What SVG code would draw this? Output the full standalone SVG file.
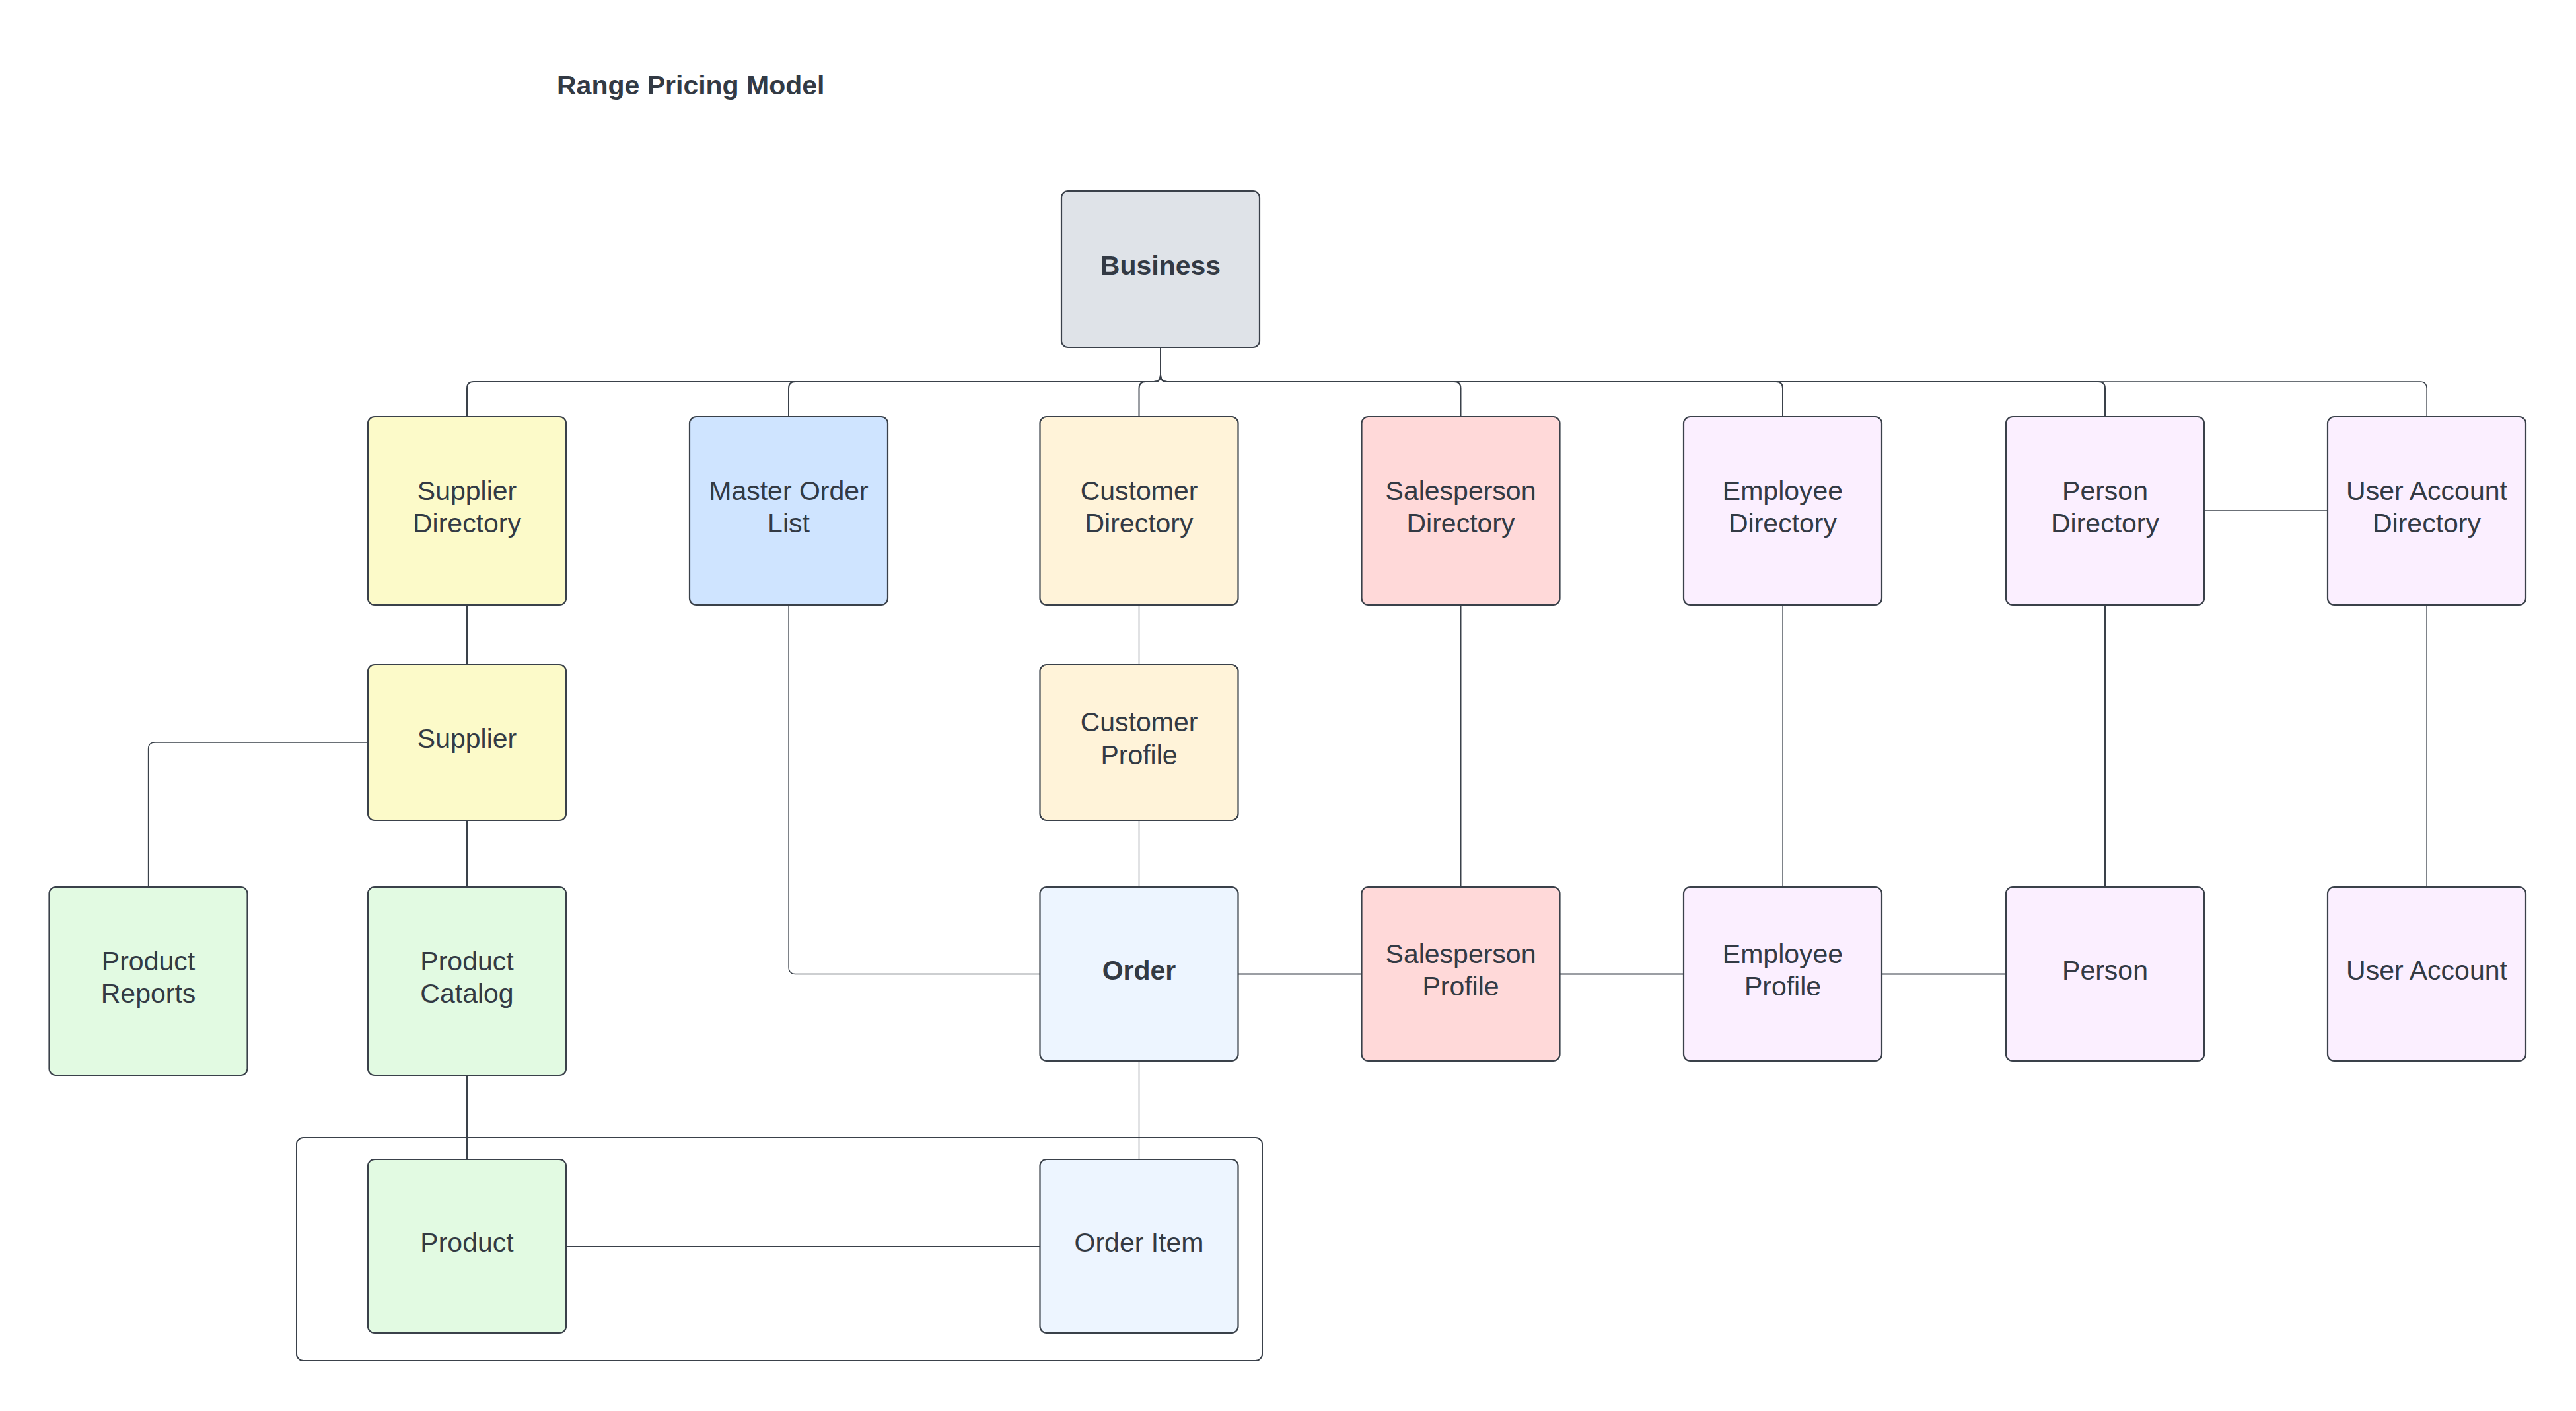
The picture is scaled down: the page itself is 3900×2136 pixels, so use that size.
<svg xmlns="http://www.w3.org/2000/svg" width="3900" height="2136" viewBox="0 0 3900 2136">
  <style>
    .box { stroke: #3a414a; stroke-width: 2.2; }
    .lbl { font-family: "Liberation Sans", Arial, sans-serif; font-size: 41px; fill: #333a44; text-anchor: middle; }
    .bold { font-weight: bold; }
    .title { font-family: "Liberation Sans", Arial, sans-serif; font-size: 41px; font-weight: bold; fill: #333a44; }
    .ln { fill: none; stroke: #3a414a; stroke-width: 2; }
    .thin { fill: none; stroke: #3a414a; stroke-width: 1.3; }
    .gray { fill: #dfe3e8; }
    .yellow { fill: #fcfac9; }
    .blue { fill: #cfe4ff; }
    .cream { fill: #fff3d9; }
    .red { fill: #ffd9d9; }
    .purple { fill: #fbefff; }
    .green { fill: #e2fae2; }
    .ice { fill: #edf5ff; }
  </style>

  <rect width="3900" height="2136" fill="#ffffff"/>

  <text class="title" x="843" y="143">Range Pricing Model</text>

  <!-- grouping frame around Product and Order Item -->
  <g id="frame">
    <rect x="449" y="1722" width="1462" height="338" rx="10" fill="none" stroke="#3a414a" stroke-width="2"/>
  </g>

  <!-- connectors -->
  <g id="connectors">
    <!-- Business to the directories -->
    <path class="ln" d="M1757 526 V568 Q1757 578 1747 578 H717 Q707 578 707 588 V631"/>
    <path class="ln" d="M1757 526 V568 Q1757 578 1747 578 H1204 Q1194 578 1194 588 V631"/>
    <path class="ln" d="M1757 526 V568 Q1757 578 1747 578 H1734.5 Q1724.5 578 1724.5 588 V631"/>
    <path class="ln" d="M1757 526 V568 Q1757 578 1767 578 H2201.5 Q2211.5 578 2211.5 588 V631"/>
    <path class="ln" d="M1757 526 V568 Q1757 578 1767 578 H2689 Q2699 578 2699 588 V631"/>
    <path class="ln" d="M1757 526 V568 Q1757 578 1767 578 H3177 Q3187 578 3187 588 V631"/>
    <path class="thin" d="M1757 526 V568 Q1757 578 1767 578 H3664 Q3674 578 3674 588 V631"/>

    <!-- supplier branch -->
    <path class="ln" d="M707 916 V1006"/>
    <path class="ln" d="M707 1242 V1343"/>
    <path class="thin" d="M557 1124 H234.5 Q224.5 1124 224.5 1134 V1343"/>
    <path class="ln" d="M707 1628 V1755"/>

    <!-- order branch -->
    <path class="thin" d="M1194 916 V1464 Q1194 1474.5 1204 1474.5 H1574.5"/>
    <path class="thin" d="M1724.5 916 V1006"/>
    <path class="thin" d="M1724.5 1242 V1343"/>
    <path class="thin" d="M1724.5 1606 V1755"/>
    <path class="ln" d="M857 1887 H1574.5"/>

    <!-- profile row -->
    <path class="ln" d="M1874.5 1474.5 H2061.5"/>
    <path class="ln" d="M2361.5 1474.5 H2549"/>
    <path class="ln" d="M2849 1474.5 H3037"/>

    <!-- directory to profile -->
    <path class="ln" d="M2211.5 916 V1343"/>
    <path class="thin" d="M2699 916 V1343"/>
    <path class="ln" d="M3187 916 V1343"/>
    <path class="thin" d="M3674 916 V1343"/>
    <path class="thin" d="M3337 773 H3524"/>
  </g>

  <g id="business">
    <rect class="box gray" x="1607" y="289" width="300" height="237" rx="10"/>
    <text class="lbl bold" x="1757" y="416">Business</text>
  </g>

  <g id="supplier-directory">
    <rect class="box yellow" x="557" y="631" width="300" height="285" rx="10"/>
    <text class="lbl" x="707" y="756.5">Supplier</text>
    <text class="lbl" x="707" y="806">Directory</text>
  </g>

  <g id="master-order-list">
    <rect class="box blue" x="1044" y="631" width="300" height="285" rx="10"/>
    <text class="lbl" x="1194" y="756.5">Master Order</text>
    <text class="lbl" x="1194" y="806">List</text>
  </g>

  <g id="customer-directory">
    <rect class="box cream" x="1574.5" y="631" width="300" height="285" rx="10"/>
    <text class="lbl" x="1724.5" y="756.5">Customer</text>
    <text class="lbl" x="1724.5" y="806">Directory</text>
  </g>

  <g id="salesperson-directory">
    <rect class="box red" x="2061.5" y="631" width="300" height="285" rx="10"/>
    <text class="lbl" x="2211.5" y="756.5">Salesperson</text>
    <text class="lbl" x="2211.5" y="806">Directory</text>
  </g>

  <g id="employee-directory">
    <rect class="box purple" x="2549" y="631" width="300" height="285" rx="10"/>
    <text class="lbl" x="2699" y="756.5">Employee</text>
    <text class="lbl" x="2699" y="806">Directory</text>
  </g>

  <g id="person-directory">
    <rect class="box purple" x="3037" y="631" width="300" height="285" rx="10"/>
    <text class="lbl" x="3187" y="756.5">Person</text>
    <text class="lbl" x="3187" y="806">Directory</text>
  </g>

  <g id="user-account-directory">
    <rect class="box purple" x="3524" y="631" width="300" height="285" rx="10"/>
    <text class="lbl" x="3674" y="756.5">User Account</text>
    <text class="lbl" x="3674" y="806">Directory</text>
  </g>

  <g id="supplier">
    <rect class="box yellow" x="557" y="1006" width="300" height="236" rx="10"/>
    <text class="lbl" x="707" y="1132">Supplier</text>
  </g>

  <g id="customer-profile">
    <rect class="box cream" x="1574.5" y="1006" width="300" height="236" rx="10"/>
    <text class="lbl" x="1724.5" y="1107">Customer</text>
    <text class="lbl" x="1724.5" y="1156.5">Profile</text>
  </g>

  <g id="product-reports">
    <rect class="box green" x="74.5" y="1343" width="300" height="285" rx="10"/>
    <text class="lbl" x="224.5" y="1468.5">Product</text>
    <text class="lbl" x="224.5" y="1518">Reports</text>
  </g>

  <g id="product-catalog">
    <rect class="box green" x="557" y="1343" width="300" height="285" rx="10"/>
    <text class="lbl" x="707" y="1468.5">Product</text>
    <text class="lbl" x="707" y="1518">Catalog</text>
  </g>

  <g id="order">
    <rect class="box ice" x="1574.5" y="1343" width="300" height="263" rx="10"/>
    <text class="lbl bold" x="1724.5" y="1482.5">Order</text>
  </g>

  <g id="salesperson-profile">
    <rect class="box red" x="2061.5" y="1343" width="300" height="263" rx="10"/>
    <text class="lbl" x="2211.5" y="1457.5">Salesperson</text>
    <text class="lbl" x="2211.5" y="1507">Profile</text>
  </g>

  <g id="employee-profile">
    <rect class="box purple" x="2549" y="1343" width="300" height="263" rx="10"/>
    <text class="lbl" x="2699" y="1457.5">Employee</text>
    <text class="lbl" x="2699" y="1507">Profile</text>
  </g>

  <g id="person">
    <rect class="box purple" x="3037" y="1343" width="300" height="263" rx="10"/>
    <text class="lbl" x="3187" y="1482.5">Person</text>
  </g>

  <g id="user-account">
    <rect class="box purple" x="3524" y="1343" width="300" height="263" rx="10"/>
    <text class="lbl" x="3674" y="1482.5">User Account</text>
  </g>

  <g id="product">
    <rect class="box green" x="557" y="1755" width="300" height="263" rx="10"/>
    <text class="lbl" x="707" y="1894.5">Product</text>
  </g>

  <g id="order-item">
    <rect class="box ice" x="1574.5" y="1755" width="300" height="263" rx="10"/>
    <text class="lbl" x="1724.5" y="1894.5">Order Item</text>
  </g>
</svg>
